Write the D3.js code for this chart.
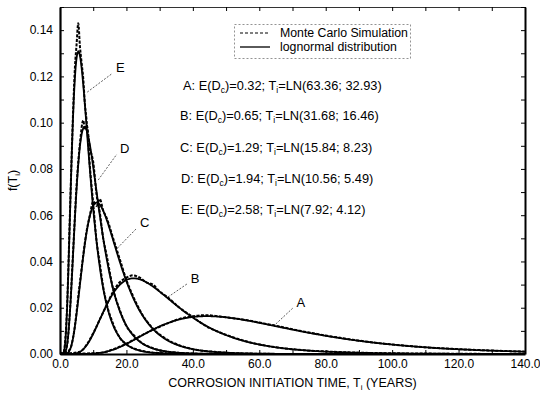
<!DOCTYPE html>
<html>
<head>
<meta charset="utf-8">
<script src="https://cdn.jsdelivr.net/npm/d3@7"></script>
<style>
  html, body { margin: 0; padding: 0; background: #fff; }
  svg { display: block; font-family: "Liberation Sans", Arial, Helvetica, sans-serif; }
</style>
</head>
<body>
<svg id="chart" width="540" height="394"></svg>
<script>
// Cases A–E: mean corrosion rate E(Dc) and lognormal initiation time T_i = LN(mean; sd)
const caseNames = ["A", "B", "C", "D", "E"];
const meanDc = ["0.32", "0.65", "1.29", "1.94", "2.58"];
const meanT = [63.36, 31.68, 15.84, 10.56, 7.92];
const sdT = [32.93, 16.46, 8.23, 5.49, 4.12];

// Monte Carlo simulated densities, [years, f(T_i)]
const mcA = [[0,0],[12,0.0005],[16,0.002],[20,0.0045],[24,0.0076],[28,0.0105],[32,0.013],[36,0.0152],[40,0.0163],[44,0.0168],[48,0.0162],[52,0.0155],[56,0.0147],[60,0.0136],[64,0.0125],[72,0.0101],[80,0.0080],[88,0.0062],[96,0.0047],[104,0.0036],[112,0.0027],[120,0.0021],[128,0.0016],[136,0.0012],[140,0.0010]];
const mcB = [[0,0],[6,0.001],[8,0.004],[10,0.009],[12,0.015],[14,0.021],[16,0.027],[18,0.031],[20,0.033],[22,0.034],[24,0.033],[26,0.031],[28,0.030],[30,0.027],[32,0.025],[36,0.020],[40,0.016],[44,0.012],[48,0.0094],[56,0.0055],[64,0.0031],[72,0.0018],[80,0.0011],[96,0.0004],[120,0.0001],[140,0]];
const mcC = [[0,0],[3,0.002],[4,0.0075],[6,0.031],[8,0.053],[9,0.060],[10,0.066],[11,0.064],[12,0.067],[13,0.062],[14,0.059],[16,0.050],[18,0.041],[20,0.032],[22,0.025],[24,0.019],[28,0.011],[32,0.0065],[36,0.0037],[40,0.0021],[48,0.0008],[60,0.0001],[70,0]];
const mcD = [[0,0],[2,0.003],[3,0.019],[4,0.046],[5,0.073],[6,0.091],[7,0.101],[7.5,0.097],[8,0.099],[9,0.089],[10,0.083],[11,0.069],[12,0.061],[13,0.050],[14,0.043],[16,0.028],[18,0.019],[20,0.012],[22,0.0085],[24,0.0055],[28,0.0025],[35,0.0006],[45,0]];
const mcE = [[0,0],[1,0.0005],[2,0.016],[3,0.061],[3.5,0.085],[4,0.107],[4.5,0.124],[5,0.134],[5.5,0.143],[6,0.133],[6.5,0.126],[7,0.119],[7.5,0.108],[8,0.101],[9,0.081],[10,0.065],[11,0.049],[12,0.039],[13,0.029],[14,0.022],[16,0.013],[18,0.007],[20,0.0042],[24,0.0016],[30,0.0004],[40,0]];
const mcSeries = [mcA, mcB, mcC, mcD, mcE];

// Axis ticks
const xTicks = d3.range(0, 141, 10);
const xTickLabels = ["0.0", "20.0", "40.0", "60.0", "80.0", "100.0", "120.0", "140.0"];
const yTicks = d3.range(0, 16).map(i => i / 100);
const yTickLabels = ["0.00", "0.02", "0.04", "0.06", "0.08", "0.10", "0.12", "0.14"];

// Leader label anchors: [curve point year, curve point f, label year, label f]
const labelYears = [[65, 0.0130, 72.5, 0.0220], [32.5, 0.0246, 40.7, 0.0325], [17.3, 0.0458, 25.5, 0.0565], [11.5, 0.0752, 19.5, 0.0885], [8.2, 0.1132, 18.2, 0.1235]];

const svg = d3.select("#chart");
const margin = { left: 60, right: 15, top: 7, bottom: 40 };
const W = 540, H = 394;
const x = d3.scaleLinear().domain([0, 140]).range([margin.left, W - margin.right]);
const y = d3.scaleLinear().domain([0, 0.15]).range([H - margin.bottom, margin.top]);

svg.append("defs").append("clipPath").attr("id", "plotclip")
  .append("rect").attr("x", x(0)).attr("y", y(0.15))
  .attr("width", x(140) - x(0)).attr("height", y(0) - y(0.15));

// Lognormal density from mean and standard deviation
function lognormalPdf(t, m, s) {
  const s2 = Math.log(1 + (s / m) * (s / m));
  const mu = Math.log(m) - s2 / 2;
  const z = Math.log(t) - mu;
  return Math.exp(-z * z / (2 * s2)) / (t * Math.sqrt(2 * Math.PI * s2));
}

const plot = svg.append("g").attr("clip-path", "url(#plotclip)");
const line = d3.line().x(d => x(d[0])).y(d => y(d[1]));

// Monte Carlo curves (dashed)
plot.selectAll("path.mc").data(mcSeries).join("path")
  .attr("class", "mc")
  .attr("d", d => line.curve(d3.curveMonotoneX)(d))
  .attr("fill", "none").attr("stroke", "#000")
  .attr("stroke-width", 2).attr("stroke-dasharray", "3,1.5");

// Lognormal curves (solid)
const grid = d3.range(0.1, 140.01, 0.2);
plot.selectAll("path.ln").data(meanT.map((m, i) => grid.map(t => [t, lognormalPdf(t, m, sdT[i])]))).join("path")
  .attr("class", "ln")
  .attr("d", d => d3.line().x(p => x(p[0])).y(p => y(p[1]))(d))
  .attr("fill", "none").attr("stroke", "#000").attr("stroke-width", 1.8);

// Axes with inward ticks on all four sides
const fmtX = d => (d % 20 === 0 ? xTickLabels[d / 20] : "");
const fmtY = d => { const k = Math.round(d * 100); return k % 2 === 0 ? yTickLabels[k / 2] : ""; };

const gx = svg.append("g").attr("transform", `translate(0,${y(0)})`)
  .call(d3.axisBottom(x).tickValues(xTicks).tickFormat(fmtX).tickSizeInner(-4).tickSizeOuter(0).tickPadding(5));
const gxt = svg.append("g").attr("transform", `translate(0,${y(0.15)})`)
  .call(d3.axisTop(x).tickValues(xTicks).tickFormat("").tickSizeInner(-4).tickSizeOuter(0));
const gy = svg.append("g").attr("transform", `translate(${x(0)},0)`)
  .call(d3.axisLeft(y).tickValues(yTicks).tickFormat(fmtY).tickSizeInner(-4).tickSizeOuter(0).tickPadding(7));
const gyr = svg.append("g").attr("transform", `translate(${x(140)},0)`)
  .call(d3.axisRight(y).tickValues(yTicks).tickFormat("").tickSizeInner(-4).tickSizeOuter(0));

[gx, gxt, gy, gyr].forEach(g => {
  g.selectAll("text").attr("font-size", 12).attr("fill", "#000")
    .style("font-family", "'Liberation Sans', Arial, sans-serif");
  g.selectAll("line").attr("stroke", "#000");
  g.select(".domain").attr("stroke", "#000");
});
gx.select(".domain").attr("stroke-width", 2.2);
gy.select(".domain").attr("stroke-width", 2.2);
gyr.select(".domain").attr("stroke-width", 2);
gxt.select(".domain").attr("stroke-width", 1).attr("stroke", "#333");
gx.selectAll("text").attr("dy", "0.75em");

// Axis titles
const xTitle = svg.append("text").attr("x", (x(0) + x(140)) / 2).attr("y", 387)
  .attr("text-anchor", "middle").attr("font-size", 12.5);
xTitle.append("tspan").text("CORROSION INITIATION TIME, T");
xTitle.append("tspan").attr("font-size", 8).attr("dy", 3).text("i");
xTitle.append("tspan").attr("dy", -3).text(" (YEARS)");

const yTitle = svg.append("text")
  .attr("transform", `translate(17,${(y(0) + y(0.15)) / 2}) rotate(-90)`)
  .attr("text-anchor", "middle").attr("font-size", 12.5);
yTitle.append("tspan").text("f(T");
yTitle.append("tspan").attr("font-size", 8).attr("dy", 3).text("i");
yTitle.append("tspan").attr("dy", -3).text(")");

// Legend
const lg = svg.append("g");
lg.append("rect").attr("x", 234.5).attr("y", 24.5).attr("width", 176).attr("height", 34)
  .attr("fill", "#fff").attr("stroke", "#777").attr("stroke-width", 0.8).attr("stroke-dasharray", "2,2");
lg.append("line").attr("x1", 240).attr("x2", 269).attr("y1", 33).attr("y2", 33)
  .attr("stroke", "#000").attr("stroke-width", 1).attr("stroke-dasharray", "3,2");
lg.append("line").attr("x1", 240).attr("x2", 270).attr("y1", 47).attr("y2", 47)
  .attr("stroke", "#000").attr("stroke-width", 1.3);
lg.append("text").attr("x", 280).attr("y", 37).attr("font-size", 12.3).text("Monte Carlo Simulation");
lg.append("text").attr("x", 280).attr("y", 51).attr("font-size", 12.3).text("lognormal distribution");

// Case annotations
const noteX = [183, 180, 180, 181, 181];
const noteY = [90, 120, 152, 183, 214];
caseNames.forEach((nm, i) => {
  const t = svg.append("text").attr("x", noteX[i]).attr("y", noteY[i]).attr("font-size", 12.8);
  t.append("tspan").text(`${nm}: E(D`);
  t.append("tspan").attr("font-size", 8.5).attr("dy", 3).text("c");
  t.append("tspan").attr("dy", -3).text(`)=${meanDc[i]}; T`);
  t.append("tspan").attr("font-size", 8.5).attr("dy", 3).text("i");
  t.append("tspan").attr("dy", -3).text(`=LN(${meanT[i].toFixed(2)}; ${sdT[i].toFixed(2)})`);
});

// Curve labels with leader lines
labelYears.forEach((p, i) => {
  const x1 = x(p[0]), y1 = y(p[1]), lx = x(p[2]), ly = y(p[3]);
  svg.append("line").attr("x1", x1).attr("y1", y1).attr("x2", lx - 8).attr("y2", ly + 5)
    .attr("stroke", "#333").attr("stroke-width", 0.8).attr("stroke-dasharray", "2,1.5");
  svg.append("text").attr("x", lx).attr("y", ly + 4).attr("text-anchor", "middle")
    .attr("font-size", 13).text(caseNames[i]);
});
</script>
</body>
</html>
